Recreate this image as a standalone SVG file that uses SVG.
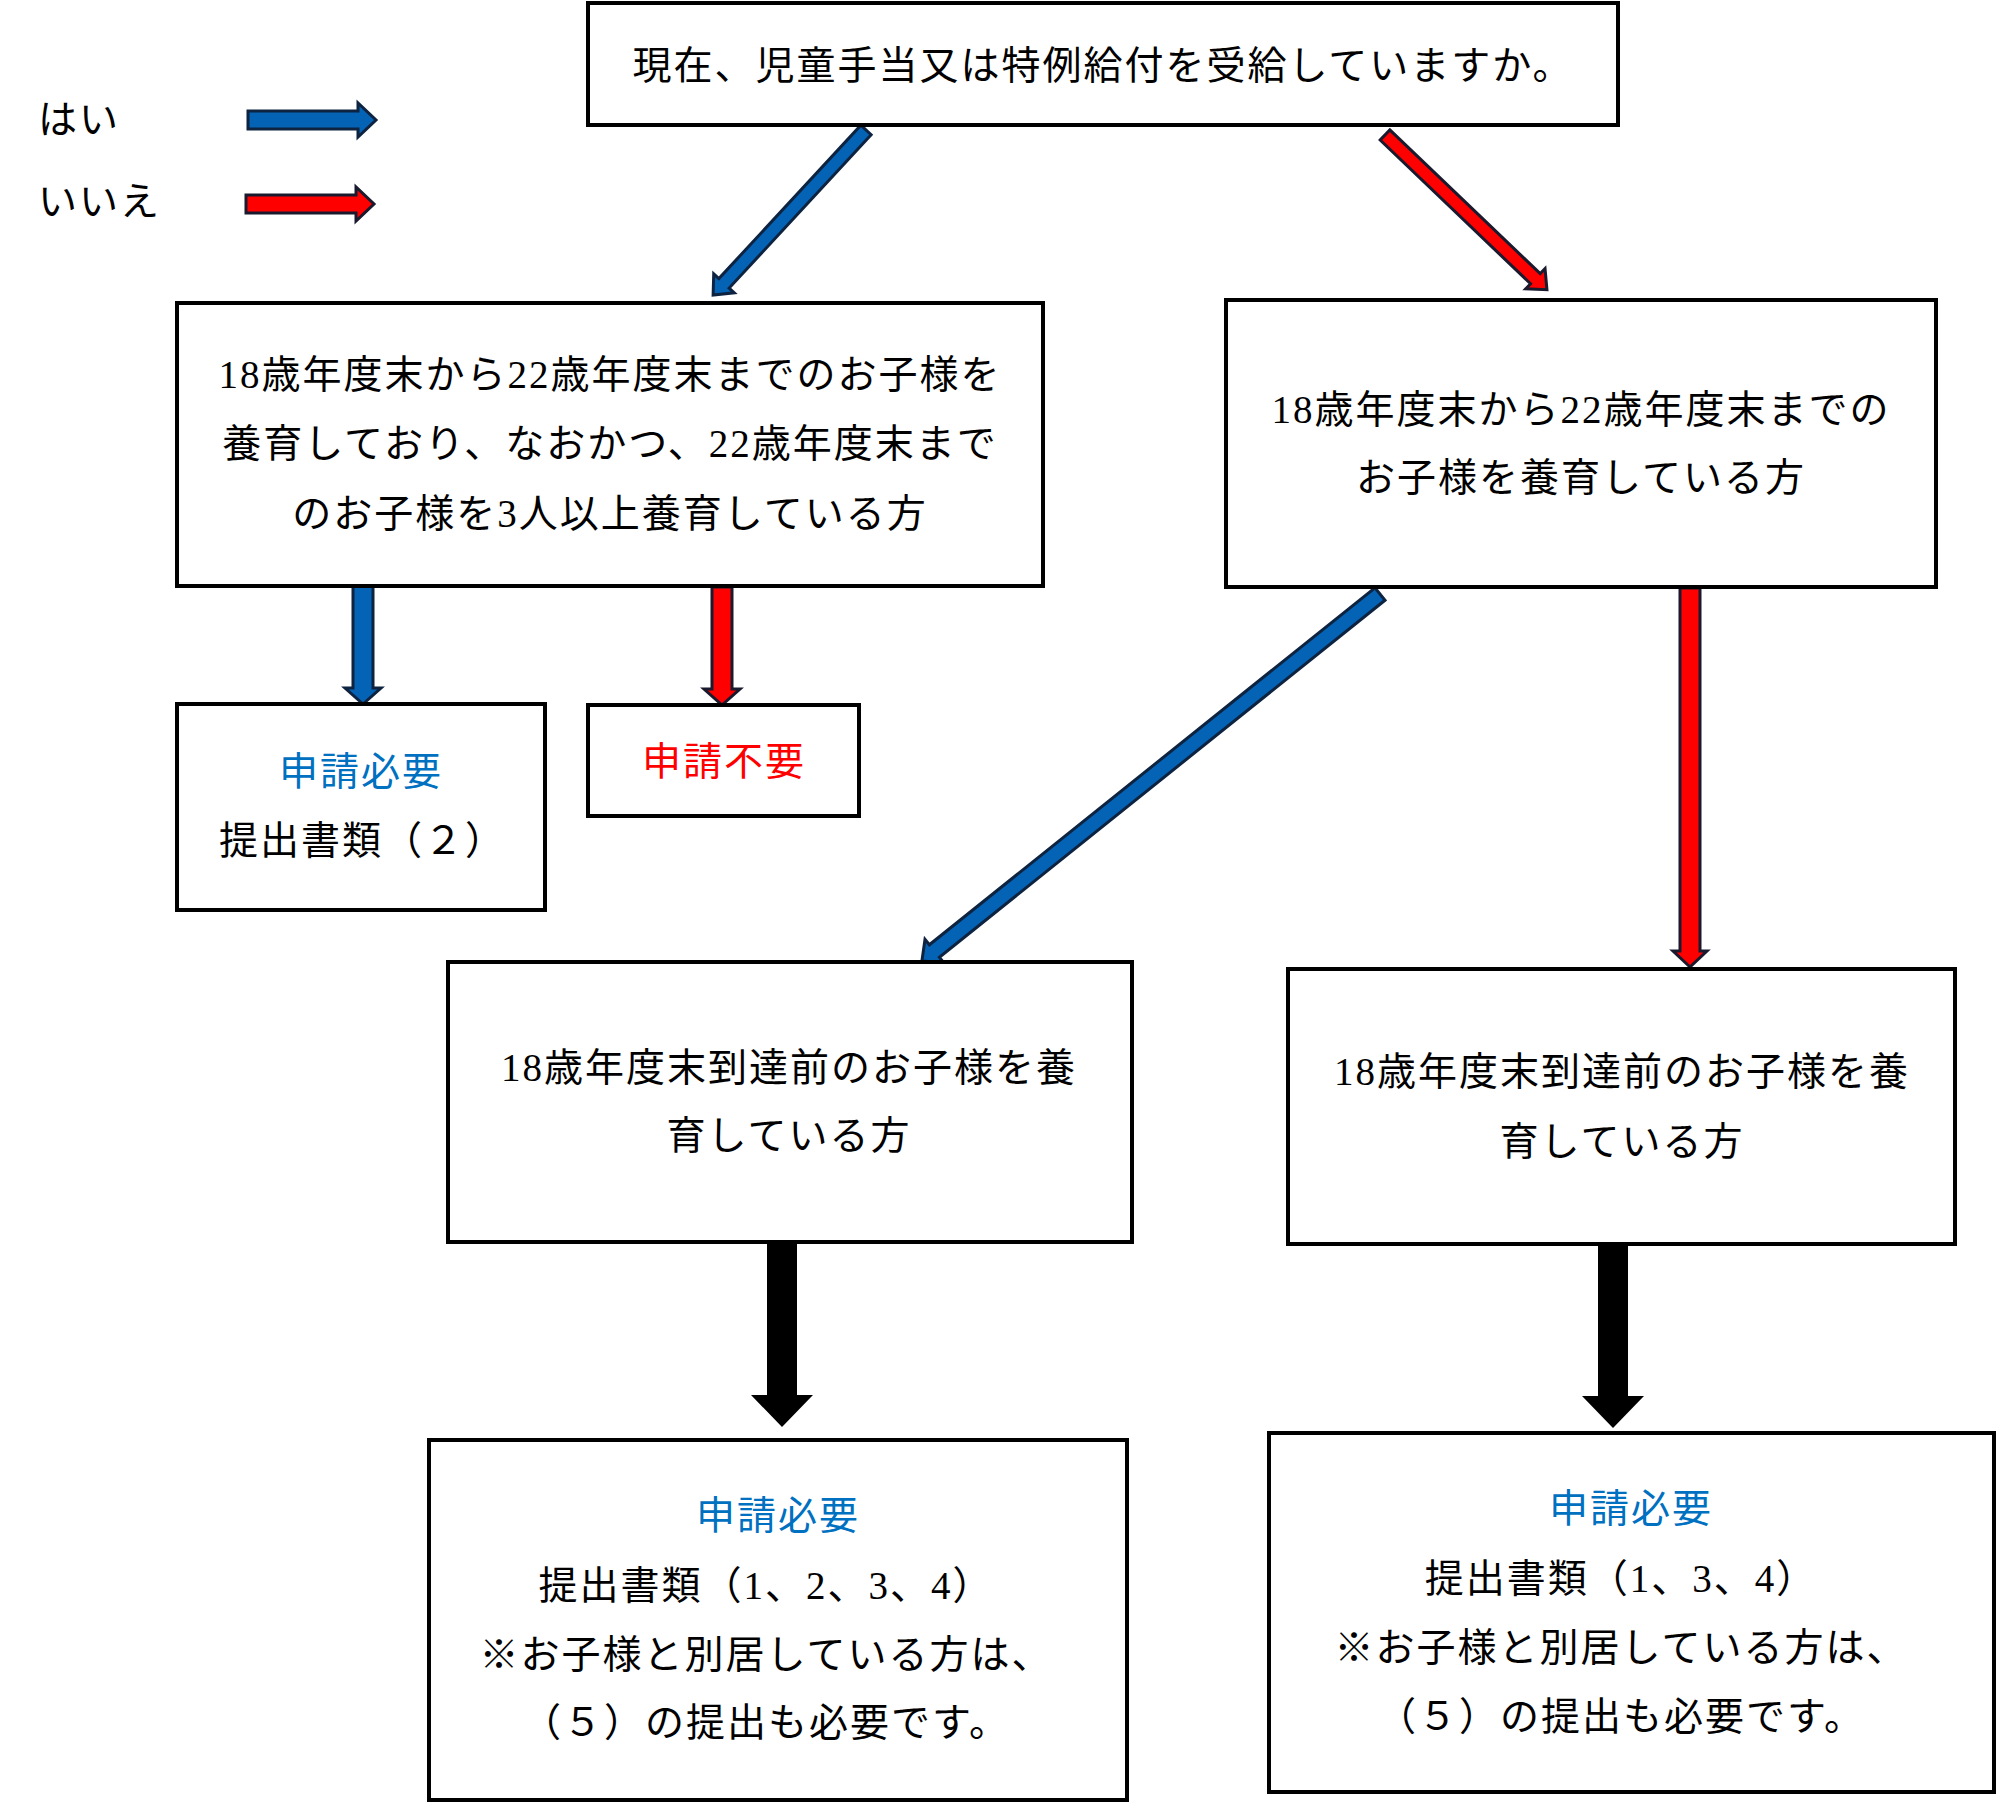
<svg xmlns="http://www.w3.org/2000/svg" width="1996" height="1803" viewBox="0 0 1996 1803">
<style>
.box{fill:#fff;stroke:#000;stroke-width:4}
text{font-family:"Liberation Serif","Noto Sans CJK JP",serif;font-size:39px;fill:#000;letter-spacing:2px}
.c{text-anchor:middle}
.blue{fill:#0070C0}
.red{fill:#FF0000}
.ab{fill:#0563B6;stroke:#0d2340;stroke-width:3}
.ar{fill:#FF0000;stroke:#1a1a2e;stroke-width:3}
.ak{fill:#000}
</style>
<rect width="1996" height="1803" fill="#fff"/>
<g id="legend">
<text x="38" y="133">はい</text>
<text x="38" y="215">いいえ</text>
<path class="ab" transform="translate(248,120)" d="M0,-9 L110,-9 L110,-17 L128,0 L110,17 L110,9 L0,9 Z"/>
<path class="ar" transform="translate(246,204)" d="M0,-9 L110,-9 L110,-17 L128,0 L110,17 L110,9 L0,9 Z"/>
</g>
<g id="connectors">
<path class="ab" transform="translate(866,130) rotate(132.8)" d="M0,-7 L209,-7 L209,-14 L225,0 L209,14 L209,7 L0,7 Z"/>
<path class="ar" transform="translate(1385,135) rotate(43.7)" d="M0,-7 L208,-7 L208,-14 L224,0 L208,14 L208,7 L0,7 Z"/>
<path class="ab" transform="translate(363,586) rotate(90)" d="M0,-10 L102,-10 L102,-18 L118,0 L102,18 L102,10 L0,10 Z"/>
<path class="ar" transform="translate(722,587) rotate(90)" d="M0,-10 L102,-10 L102,-18 L118,0 L102,18 L102,10 L0,10 Z"/>
<path class="ab" transform="translate(1380,594) rotate(141.3)" d="M0,-8 L571,-8 L571,-15 L587,0 L571,15 L571,8 L0,8 Z"/>
<path class="ar" transform="translate(1690,588) rotate(90)" d="M0,-10 L363,-10 L363,-17 L379,0 L363,17 L363,10 L0,10 Z"/>
<path class="ak" transform="translate(782,1244) rotate(90)" d="M0,-15 L151,-15 L151,-31 L183,0 L151,31 L151,15 L0,15 Z"/>
<path class="ak" transform="translate(1613,1245) rotate(90)" d="M0,-15 L151,-15 L151,-31 L183,0 L151,31 L151,15 L0,15 Z"/>
</g>
<g id="q1"><rect class="box" x="588" y="3" width="1030" height="122"/>
<text class="c" x="1103" y="79">現在、児童手当又は特例給付を受給していますか。</text></g>
<g id="qA"><rect class="box" x="177" y="303" width="866" height="283"/>
<text class="c" x="610" y="388">18歳年度末から22歳年度末までのお子様を</text>
<text class="c" x="610" y="457">養育しており、なおかつ、22歳年度末まで</text>
<text class="c" x="610" y="527">のお子様を3人以上養育している方</text></g>
<g id="qB"><rect class="box" x="1226" y="300" width="710" height="287"/>
<text class="c" x="1581" y="423">18歳年度末から22歳年度末までの</text>
<text class="c" x="1581" y="491">お子様を養育している方</text></g>
<g id="rC"><rect class="box" x="177" y="704" width="368" height="206"/>
<text class="c blue" x="361" y="785">申請必要</text>
<text x="219" y="854">提出書類（２）</text></g>
<g id="rD"><rect class="box" x="588" y="705" width="271" height="111"/>
<text class="c red" x="724" y="775">申請不要</text></g>
<g id="qE"><rect class="box" x="448" y="962" width="684" height="280"/>
<text class="c" x="789" y="1081">18歳年度末到達前のお子様を養</text>
<text class="c" x="789" y="1149">育している方</text></g>
<g id="qF"><rect class="box" x="1288" y="969" width="667" height="275"/>
<text class="c" x="1622" y="1085">18歳年度末到達前のお子様を養</text>
<text class="c" x="1622" y="1155">育している方</text></g>
<g id="rG"><rect class="box" x="429" y="1440" width="698" height="360"/>
<text class="c blue" x="778" y="1529">申請必要</text>
<text class="c" x="766" y="1599">提出書類（1、2、3、4）</text>
<text class="c" x="766" y="1668">※お子様と別居している方は、</text>
<text class="c" x="766" y="1736">（５）の提出も必要です。</text></g>
<g id="rH"><rect class="box" x="1269" y="1433" width="725" height="359"/>
<text class="c blue" x="1631" y="1522">申請必要</text>
<text class="c" x="1621" y="1592">提出書類（1、3、4）</text>
<text class="c" x="1621" y="1661">※お子様と別居している方は、</text>
<text class="c" x="1621" y="1730">（５）の提出も必要です。</text></g>
</svg>
